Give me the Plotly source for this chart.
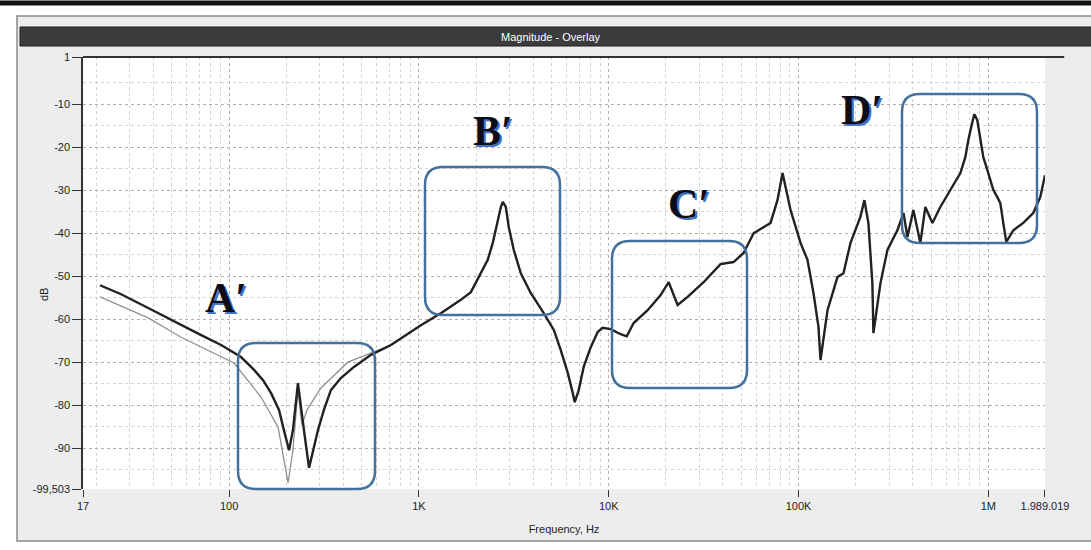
import plotly.graph_objects as go

# ---------------- data ----------------
freq_dark = [20.9, 27.0, 37.5, 55.9, 71.3, 90.8, 115.6, 135.5, 151.0, 166.4, 183.3, 194.5, 207, 217, 230.6,
             248, 263.8, 294, 316, 344, 388, 455, 559, 713, 855, 1024, 1305, 1664, 1879, 2119, 2306, 2449,
             2606, 2704, 2768, 2871, 2976, 3162, 3443, 3883, 4547, 5140, 5590, 6087, 6468, 6625, 6950, 7385,
             8041, 8750, 9295, 10240, 11560, 12450, 13540, 16040, 18780, 20700, 23080, 26060, 31620, 38840,
             45480, 51370, 57990, 71250, 77480, 82400, 90810, 102600, 111500, 119900, 127400, 130600, 142200,
             160400, 172600, 187800, 211900, 222400, 233500, 245000, 248100, 270300, 294100, 331900, 357400,
             375000, 403000, 438500, 465800, 507500, 558700, 631000, 712500, 756800, 785000, 824000, 844000,
             875000, 907500, 941000, 989000, 1062000, 1115000, 1157000, 1199000, 1244000, 1355000, 1529000,
             1725000, 1878000, 1989019]
db_dark = [-52.1, -54.2, -57.4, -61.4, -63.7, -66.0, -68.8, -71.8, -74.2, -77.2, -81.1, -85.8, -90.5, -85.8,
           -74.9, -85.8, -94.6, -85.8, -81.1, -76.5, -73.7, -71.1, -68.3, -66.0, -63.7, -61.4, -58.6, -55.5,
           -53.7, -49.3, -46.2, -42.3, -36.9, -33.9, -32.7, -33.9, -38.6, -43.9, -49.3, -53.9, -58.6, -62.5,
           -67.2, -72.5, -77.2, -79.3, -76.5, -71.1, -66.5, -63.0, -62.0, -62.3, -63.5, -64.0, -60.9, -57.9,
           -54.4, -51.4, -56.7, -54.8, -51.4, -47.2, -46.7, -44.6, -40.0, -37.6, -32.3, -26.0, -34.6, -42.3,
           -46.2, -53.9, -61.8, -69.5, -57.9, -50.2, -49.3, -42.3, -36.2, -32.3, -37.6, -51.6, -63.2, -51.6,
           -43.9, -39.3, -35.3, -40.9, -34.6, -42.3, -33.9, -37.6, -33.9, -29.9, -26.0, -22.3, -18.3, -14.1,
           -12.3, -13.7, -18.3, -22.3, -25.3, -29.9, -31.6, -33.0, -37.6, -42.0, -39.3, -37.6, -35.3, -31.6,
           -26.5]

# second (lighter) overlay curve: differs at low frequency, coincides above ~700 Hz
freq_light_low = [20.9, 27.0, 37.5, 55.9, 71.3, 106.2, 147.3, 181.2, 204.6, 217, 230.6, 242, 257.6, 304.8,
                  422.9, 579.6]
db_light_low = [-54.8, -56.9, -59.7, -64.2, -66.5, -70.2, -78.1, -85.1, -98.1, -90.5, -76.5, -84.6, -81.1,
                -76.0, -70.0, -67.6]
freq_light = freq_light_low + freq_dark[23:]
db_light = db_light_low + db_dark[23:]

x_tick_vals = [17, 100, 1000, 10000, 100000, 1000000, 1989019]
x_tick_text = ["17", "100", "1K", "10K", "100K", "1M", "1.989.019"]
y_tick_vals = [1, -10, -20, -30, -40, -50, -60, -70, -80, -90, -99.503]
y_tick_text = ["1", "-10", "-20", "-30", "-40", "-50", "-60", "-70", "-80", "-90", "-99,503"]

region_labels = ["A′", "B′", "C′", "D′"]

# ---------------- layout geometry ----------------
W, H = 1091, 550
ML, MR, MT, MB = 83, 46, 57, 61
PW, PH = W - ML - MR, H - MT - MB


def px(x):
    return (x - ML) / PW


def py(y):
    return (H - MB - y) / PH


def rrect(x0, y0, x1, y1, r):
    def P(x, y):
        return f"{px(x):.5f},{py(y):.5f}"
    return (f"M {P(x0 + r, y0)} L {P(x1 - r, y0)} Q {P(x1, y0)} {P(x1, y0 + r)} "
            f"L {P(x1, y1 - r)} Q {P(x1, y1)} {P(x1 - r, y1)} L {P(x0 + r, y1)} "
            f"Q {P(x0, y1)} {P(x0, y1 - r)} L {P(x0, y0 + r)} Q {P(x0, y0)} {P(x0 + r, y0)} Z")


# minor grid positions (log decades)
x_minor = []
for dec in [10, 100, 1000, 10000, 100000, 1000000]:
    for m in range(1, 10):
        v = dec * m
        if 17 < v < 1989019:
            x_minor.append(v)
y_minor = [v for v in range(-95, 1, 5) if v % 10 != 0]

fig = go.Figure()
fig.add_trace(go.Scatter(x=freq_light, y=db_light, mode="lines",
                         line=dict(color="#909090", width=1.3), hoverinfo="skip", showlegend=False))
fig.add_trace(go.Scatter(x=freq_dark, y=db_dark, mode="lines",
                         line=dict(color="#222222", width=2.4), hoverinfo="skip", showlegend=False))

font_ax = dict(family="Liberation Sans, Arial, sans-serif", size=11, color="#222222")

fig.update_layout(
    width=W, height=H,
    margin=dict(l=ML, r=MR, t=MT, b=MB, pad=0),
    paper_bgcolor="white", plot_bgcolor="white",
    showlegend=False,
    xaxis=dict(type="log", range=[1.2304489, 6.2986715], tickvals=x_tick_vals, ticktext=x_tick_text,
               ticks="outside", ticklen=7, tickcolor="#333", tickfont=font_ax,
               showgrid=True, gridcolor="#b0b0b0", griddash="dot", gridwidth=1,
               minor=dict(tickvals=x_minor, showgrid=True, gridcolor="#d2d2d2", griddash="dot", ticks=""),
               showline=False, zeroline=False,
               title=dict(text="Frequency, Hz", font=font_ax, standoff=14)),
    yaxis=dict(range=[-99.503, 1], tickvals=y_tick_vals, ticktext=y_tick_text,
               ticks="outside", ticklen=9, tickcolor="#333", tickfont=font_ax,
               showgrid=True, gridcolor="#b0b0b0", griddash="dot", gridwidth=1,
               minor=dict(tickvals=y_minor, showgrid=True, gridcolor="#d2d2d2", griddash="dot", ticks=""),
               showline=True, linecolor="#333", linewidth=1.5, zeroline=False),
)

shapes = []
# window background, frame and plot area
shapes.append(dict(type="rect", xref="paper", yref="paper", x0=px(17), y0=py(541), x1=px(1095), y1=py(16),
                   fillcolor="#ededed", line=dict(color="#8a8a8a", width=1.5), layer="below"))
shapes.append(dict(type="rect", xref="paper", yref="paper", x0=0, y0=0, x1=1, y1=1,
                   fillcolor="white", line=dict(width=0), layer="below"))
# title bar
shapes.append(dict(type="rect", xref="paper", yref="paper", x0=px(20), y0=py(46), x1=px(1095), y1=py(27),
                   fillcolor="#3c3c3c", line=dict(color="#1e1e1e", width=1), layer="below"))
# top edge of plot area
shapes.append(dict(type="line", xref="paper", yref="paper", x0=0, y0=1, x1=1.02, y1=1,
                   line=dict(color="#333", width=2)))
# scanned page edge at the very top
shapes.append(dict(type="line", xref="paper", yref="paper", x0=px(0), y0=py(3), x1=px(1091), y1=py(3),
                   line=dict(color="#111", width=5)))

# rounded highlight boxes
boxes = [(238, 343, 375, 489), (425, 167, 560, 315), (612, 241, 747, 388), (902, 94, 1037, 243)]
for (x0, y0, x1, y1) in boxes:
    shapes.append(dict(type="path", xref="paper", yref="paper", path=rrect(x0, y0, x1, y1, 18),
                       line=dict(color="#41719c", width=2.5)))
fig.update_layout(shapes=shapes)

annotations = [
    dict(xref="paper", yref="paper", x=px(551), y=py(37), text="Magnitude - Overlay", showarrow=False,
         font=dict(family="Liberation Sans, Arial, sans-serif", size=11, color="white"),
         xanchor="center", yanchor="middle"),
    dict(xref="paper", yref="paper", x=px(44), y=py(295), text="dB", showarrow=False, textangle=-90,
         font=font_ax, xanchor="center", yanchor="middle"),
]
label_pos = [(226, 298), (493, 131), (689, 204), (862, 110)]
for txt, (lx, ly) in zip(region_labels, label_pos):
    annotations.append(dict(xref="paper", yref="paper", x=px(lx + 2), y=py(ly + 2), text=f"<b>{txt}</b>",
                            showarrow=False, xanchor="center", yanchor="middle",
                            font=dict(family="Liberation Serif, Times New Roman, serif", size=42,
                                      color="#4472c4")))
    annotations.append(dict(xref="paper", yref="paper", x=px(lx), y=py(ly), text=f"<b>{txt}</b>",
                            showarrow=False, xanchor="center", yanchor="middle",
                            font=dict(family="Liberation Serif, Times New Roman, serif", size=42,
                                      color="#0d0d1a")))
fig.update_layout(annotations=annotations)

fig.write_html("out.html")
